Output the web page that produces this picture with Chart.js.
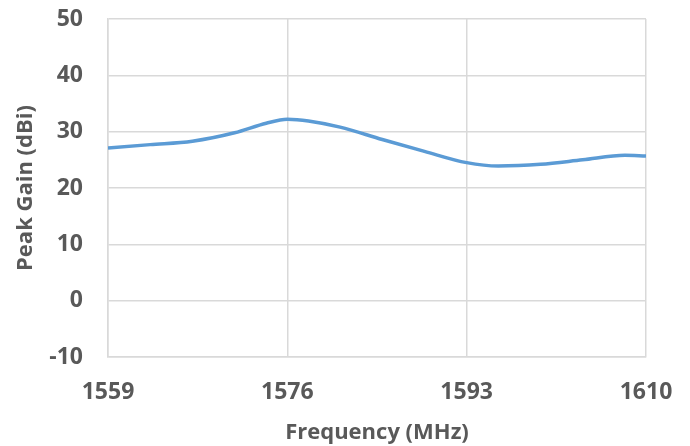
<!DOCTYPE html>
<html>
<head>
<meta charset="utf-8">
<script src="https://cdn.jsdelivr.net/npm/chart.js@4/dist/chart.umd.min.js"></script>
<style>
html,body{margin:0;padding:0;background:#fff;}
#wrap{width:690px;height:446px;}
</style>
</head>
<body>
<div id="wrap"><canvas id="c" width="690" height="446"></canvas></div>
<script>
const frequencies = [1559, 1563, 1567, 1571, 1574, 1576, 1578, 1581, 1585, 1589, 1593, 1596, 1600, 1604, 1608, 1610];
const peakGain    = [27.1, 27.7, 28.3, 29.8, 31.5, 32.2, 31.9, 30.8, 28.6, 26.5, 24.5, 23.9, 24.2, 25.0, 25.8, 25.7];
const xTicks = [1559, 1576, 1593, 1610];
const yMin = -10, yMax = 50, yStep = 10;

const gray = '#595959';
const grid = '#d9d9d9';
const fontFam = '"Open Sans", "Liberation Sans", sans-serif';

new Chart(document.getElementById('c'), {
  type: 'line',
  data: {
    datasets: [{
      data: frequencies.map((f, i) => ({x: f, y: peakGain[i]})),
      borderColor: '#5b9bd5',
      borderWidth: 3.5,
      pointRadius: 0,
      fill: false,
      cubicInterpolationMode: 'monotone'
    }]
  },
  options: {
    responsive: false,
    animation: false,
    layout: {padding: {left: 0, right: 44, top: 19, bottom: 0}},
    plugins: {legend: {display: false}, tooltip: {enabled: false}},
    scales: {
      x: {
        type: 'linear',
        min: xTicks[0], max: xTicks[xTicks.length - 1],
        afterBuildTicks: axis => { axis.ticks = xTicks.map(v => ({value: v})); },
        afterFit: s => { s.height = 89; s.paddingLeft = 0; s.paddingRight = 0; },
        ticks: {color: gray, font: {family: fontFam, size: 23, weight: 'bold'}, padding: 22, maxRotation: 0,
                callback: v => String(v)},
        grid: {color: grid, lineWidth: 1.5, drawTicks: false},
        border: {color: grid, width: 1.5},
        title: {display: true, text: 'Frequency (MHz)', color: gray,
                font: {family: fontFam, size: 22, weight: 'bold'}, padding: {top: 0, bottom: 0}}
      },
      y: {
        min: yMin, max: yMax,
        afterFit: s => { s.width = 108; s.paddingTop = 0; s.paddingBottom = 0; },
        ticks: {stepSize: yStep, color: gray, font: {family: fontFam, size: 23, weight: 'bold'}, padding: 25},
        grid: {color: grid, lineWidth: 1.5, drawTicks: false},
        border: {color: grid, width: 1.5},
        title: {display: true, text: 'Peak Gain (dBi)', color: gray,
                font: {family: fontFam, size: 22, weight: 'bold'}, padding: {top: 13, bottom: 0}}
      }
    }
  }
});
</script>
</body>
</html>
